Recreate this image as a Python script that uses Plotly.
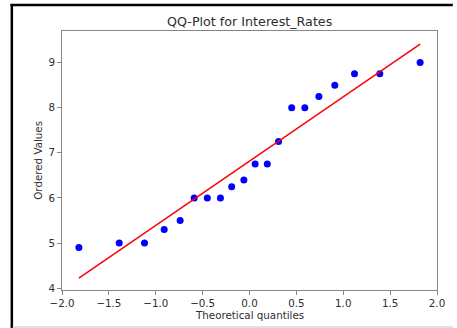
import numpy as np
import plotly.graph_objects as go

# Normal probability plot data
theoretical_quantiles = [-1.82, -1.39, -1.12, -0.91, -0.74, -0.59, -0.45, -0.31, -0.19, -0.06,
                         0.06, 0.19, 0.31, 0.45, 0.59, 0.74, 0.91, 1.12, 1.39, 1.82]
ordered_values = [4.9, 5.0, 5.0, 5.3, 5.5, 6.0, 6.0, 6.0, 6.25, 6.4,
                  6.75, 6.75, 7.25, 8.0, 8.0, 8.25, 8.5, 8.75, 8.75, 9.0]
x_ticks = [-2.0, -1.5, -1.0, -0.5, 0.0, 0.5, 1.0, 1.5, 2.0]
y_ticks = [4, 5, 6, 7, 8, 9]

# least-squares reference line through the quantile pairs
slope, intercept = np.polyfit(theoretical_quantiles, ordered_values, 1)
fit_x = np.array([min(theoretical_quantiles), max(theoretical_quantiles)])
fit_y = slope * fit_x + intercept

W, H = 457, 328
ML, MR, MT, MB = 62, 16, 31, 38
PW, PH = W - ML - MR, H - MT - MB


def px(x):
    return (x - ML) / PW


def py(y):
    return (H - MB - y) / PH


TEXT = "#2e2e2e"
SPINE = "#858585"
FONT = "DejaVu Sans"

fig = go.Figure()
fig.add_trace(go.Scatter(x=theoretical_quantiles, y=ordered_values, mode="markers",
                         marker=dict(color="#0000ff", size=7, line=dict(width=0)),
                         showlegend=False))
fig.add_trace(go.Scatter(x=fit_x, y=fit_y, mode="lines",
                         line=dict(color="#ff0000", width=1.5), showlegend=False))

axis_common = dict(showgrid=False, zeroline=False, showline=True, mirror=True,
                   linecolor=SPINE, linewidth=1, ticks="outside", ticklen=4,
                   tickcolor=SPINE, tickwidth=1,
                   tickfont=dict(family=FONT, size=10.3, color=TEXT))

fig.update_xaxes(range=[-2.0, 2.0], tickvals=x_ticks,
                 ticktext=[f"{v:.1f}".replace("-", "\u2212") for v in x_ticks],
                 **axis_common)
fig.update_yaxes(range=[3.96, 9.70], tickvals=y_ticks,
                 ticktext=[str(v) for v in y_ticks], **axis_common)

fig.update_layout(
    width=W, height=H,
    margin=dict(l=ML, r=MR, t=MT, b=MB, pad=0),
    paper_bgcolor="white", plot_bgcolor="white",
    font=dict(family=FONT, color=TEXT),
    annotations=[
        dict(text="QQ-Plot for Interest_Rates", x=0.5, y=py(21), xref="paper", yref="paper",
             showarrow=False, xanchor="center", yanchor="middle",
             font=dict(family=FONT, size=12.7, color=TEXT)),
        dict(text="Theoretical quantiles", x=0.5, y=py(315), xref="paper", yref="paper",
             showarrow=False, xanchor="center", yanchor="middle",
             font=dict(family=FONT, size=10.3, color=TEXT)),
        dict(text="Ordered Values", x=px(37), y=0.5, xref="paper", yref="paper",
             showarrow=False, xanchor="center", yanchor="middle", textangle=-90,
             font=dict(family=FONT, size=10.3, color=TEXT)),
    ],
    shapes=[
        dict(type="line", xref="paper", yref="paper", x0=px(10), x1=px(457), y0=py(5), y1=py(5),
             line=dict(color="black", width=2.5)),
        dict(type="line", xref="paper", yref="paper", x0=px(11.3), x1=px(11.3), y0=py(4), y1=py(328),
             line=dict(color="black", width=2.5)),
        dict(type="line", xref="paper", yref="paper", x0=px(12), x1=px(457), y0=py(327), y1=py(327),
             line=dict(color="#c0c0c0", width=1)),
    ],
)

fig.write_html("out.html")
